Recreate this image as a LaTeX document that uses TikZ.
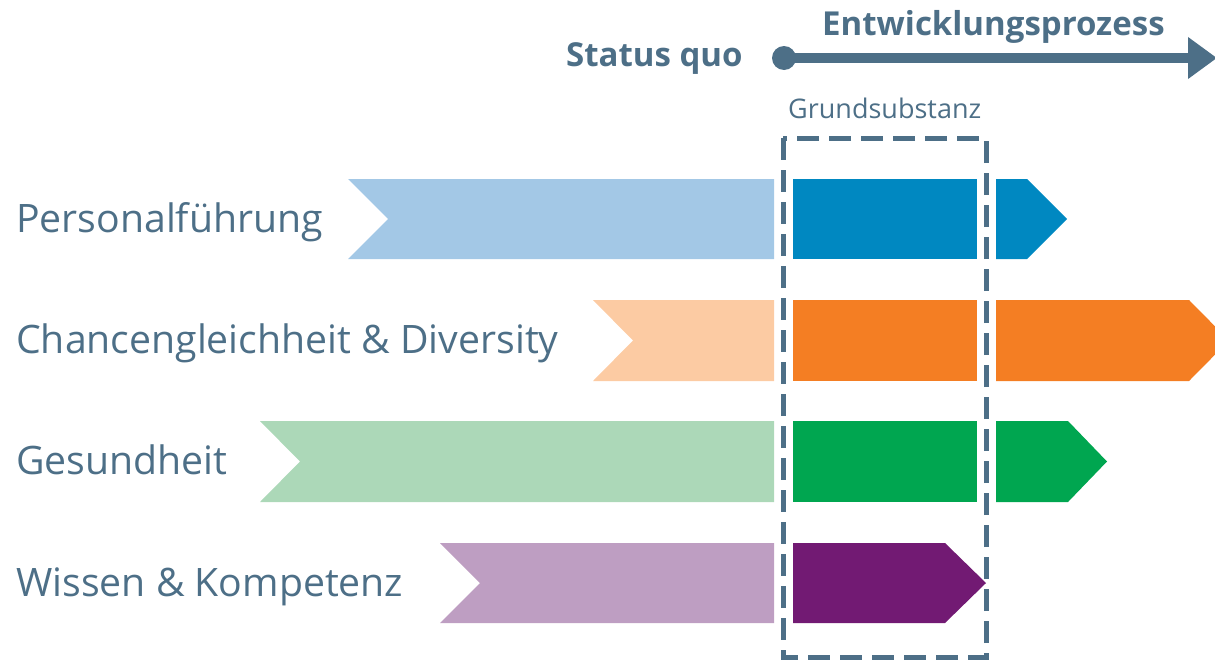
\documentclass[tikz,border=0pt]{standalone}
\usepackage{fontspec}
\setmainfont{Open Sans}
\usetikzlibrary{arrows.meta}
\definecolor{slate}{HTML}{4D6F87}
\definecolor{lblue}{HTML}{A3C8E6}
\definecolor{dblue}{HTML}{0088C1}
\definecolor{lorange}{HTML}{FCCBA3}
\definecolor{dorange}{HTML}{F47E23}
\definecolor{lgreen}{HTML}{ACD8B8}
\definecolor{dgreen}{HTML}{00A650}
\definecolor{lpurple}{HTML}{BE9EC2}
\definecolor{dpurple}{HTML}{721A73}
\begin{document}
\begin{tikzpicture}[x=1pt,y=-1pt,
  rowlabel/.style={anchor=base west,inner sep=0pt,text=slate,font=\fontsize{39.2}{42}\selectfont},
  headlabel/.style={anchor=base west,inner sep=0pt,text=slate,font=\fontsize{33}{36}\selectfont\bfseries},
  smalllabel/.style={anchor=base west,inner sep=0pt,text=slate,font=\fontsize{27}{30}\selectfont},
  gbox/.style={draw=slate,line width=5pt,dash pattern=on 22pt off 10pt}]
\useasboundingbox (0,0) rectangle (1215,664);
\clip (0,0) rectangle (1215,664);
% header
\node[headlabel] (sq) at (566,66) {Status quo};
\node[headlabel] (ep) at (822,35) {Entwicklungsprozess};
\node[circle,fill=slate,minimum size=24pt,inner sep=0pt] (start) at (784,58) {};
\coordinate (end) at (1217,58);
\draw[slate,line width=9.5pt,-{Triangle[length=29pt,width=40pt]}] (start.center) -- (end);
\node[smalllabel] (gs) at (788,118) {Grundsubstanz};
% row 1
\fill[lblue] (348,179) -- (774,179) -- (774,259) -- (348,259) -- (388,219) -- cycle;
\fill[dblue] (793,179) rectangle (977,259);
\fill[dblue] (996,179) -- (1027,179) -- (1067,219) -- (1027,259) -- (996,259) -- cycle;
% row 2
\fill[lorange] (593,300) -- (774,300) -- (774,381) -- (593,381) -- (633,340.5) -- cycle;
\fill[dorange] (793,300) rectangle (977,381);
\fill[dorange] (996,300) -- (1189,300) -- (1229,340.5) -- (1189,381) -- (996,381) -- cycle;
% row 3
\fill[lgreen] (260,421) -- (774,421) -- (774,502) -- (260,502) -- (300,461.5) -- cycle;
\fill[dgreen] (793,421) rectangle (977,502);
\fill[dgreen] (996,421) -- (1068,421) -- (1107,461.5) -- (1068,502) -- (996,502) -- cycle;
% row 4
\fill[lpurple] (440,543) -- (774,543) -- (774,623) -- (440,623) -- (480,583) -- cycle;
\fill[dpurple] (793,543) -- (945,543) -- (986,583) -- (945,623) -- (793,623) -- cycle;
% dashed box
\draw[gbox] (783,138) rectangle (986,657);
% labels
\node[rowlabel] (l1) at (16,232) {Personalführung};
\node[rowlabel] (l2) at (16,353) {Chancengleichheit \& Diversity};
\node[rowlabel] (l3) at (16,474) {Gesundheit};
\node[rowlabel] (l4) at (16,596) {Wissen \& Kompetenz};
\end{tikzpicture}
\end{document}
